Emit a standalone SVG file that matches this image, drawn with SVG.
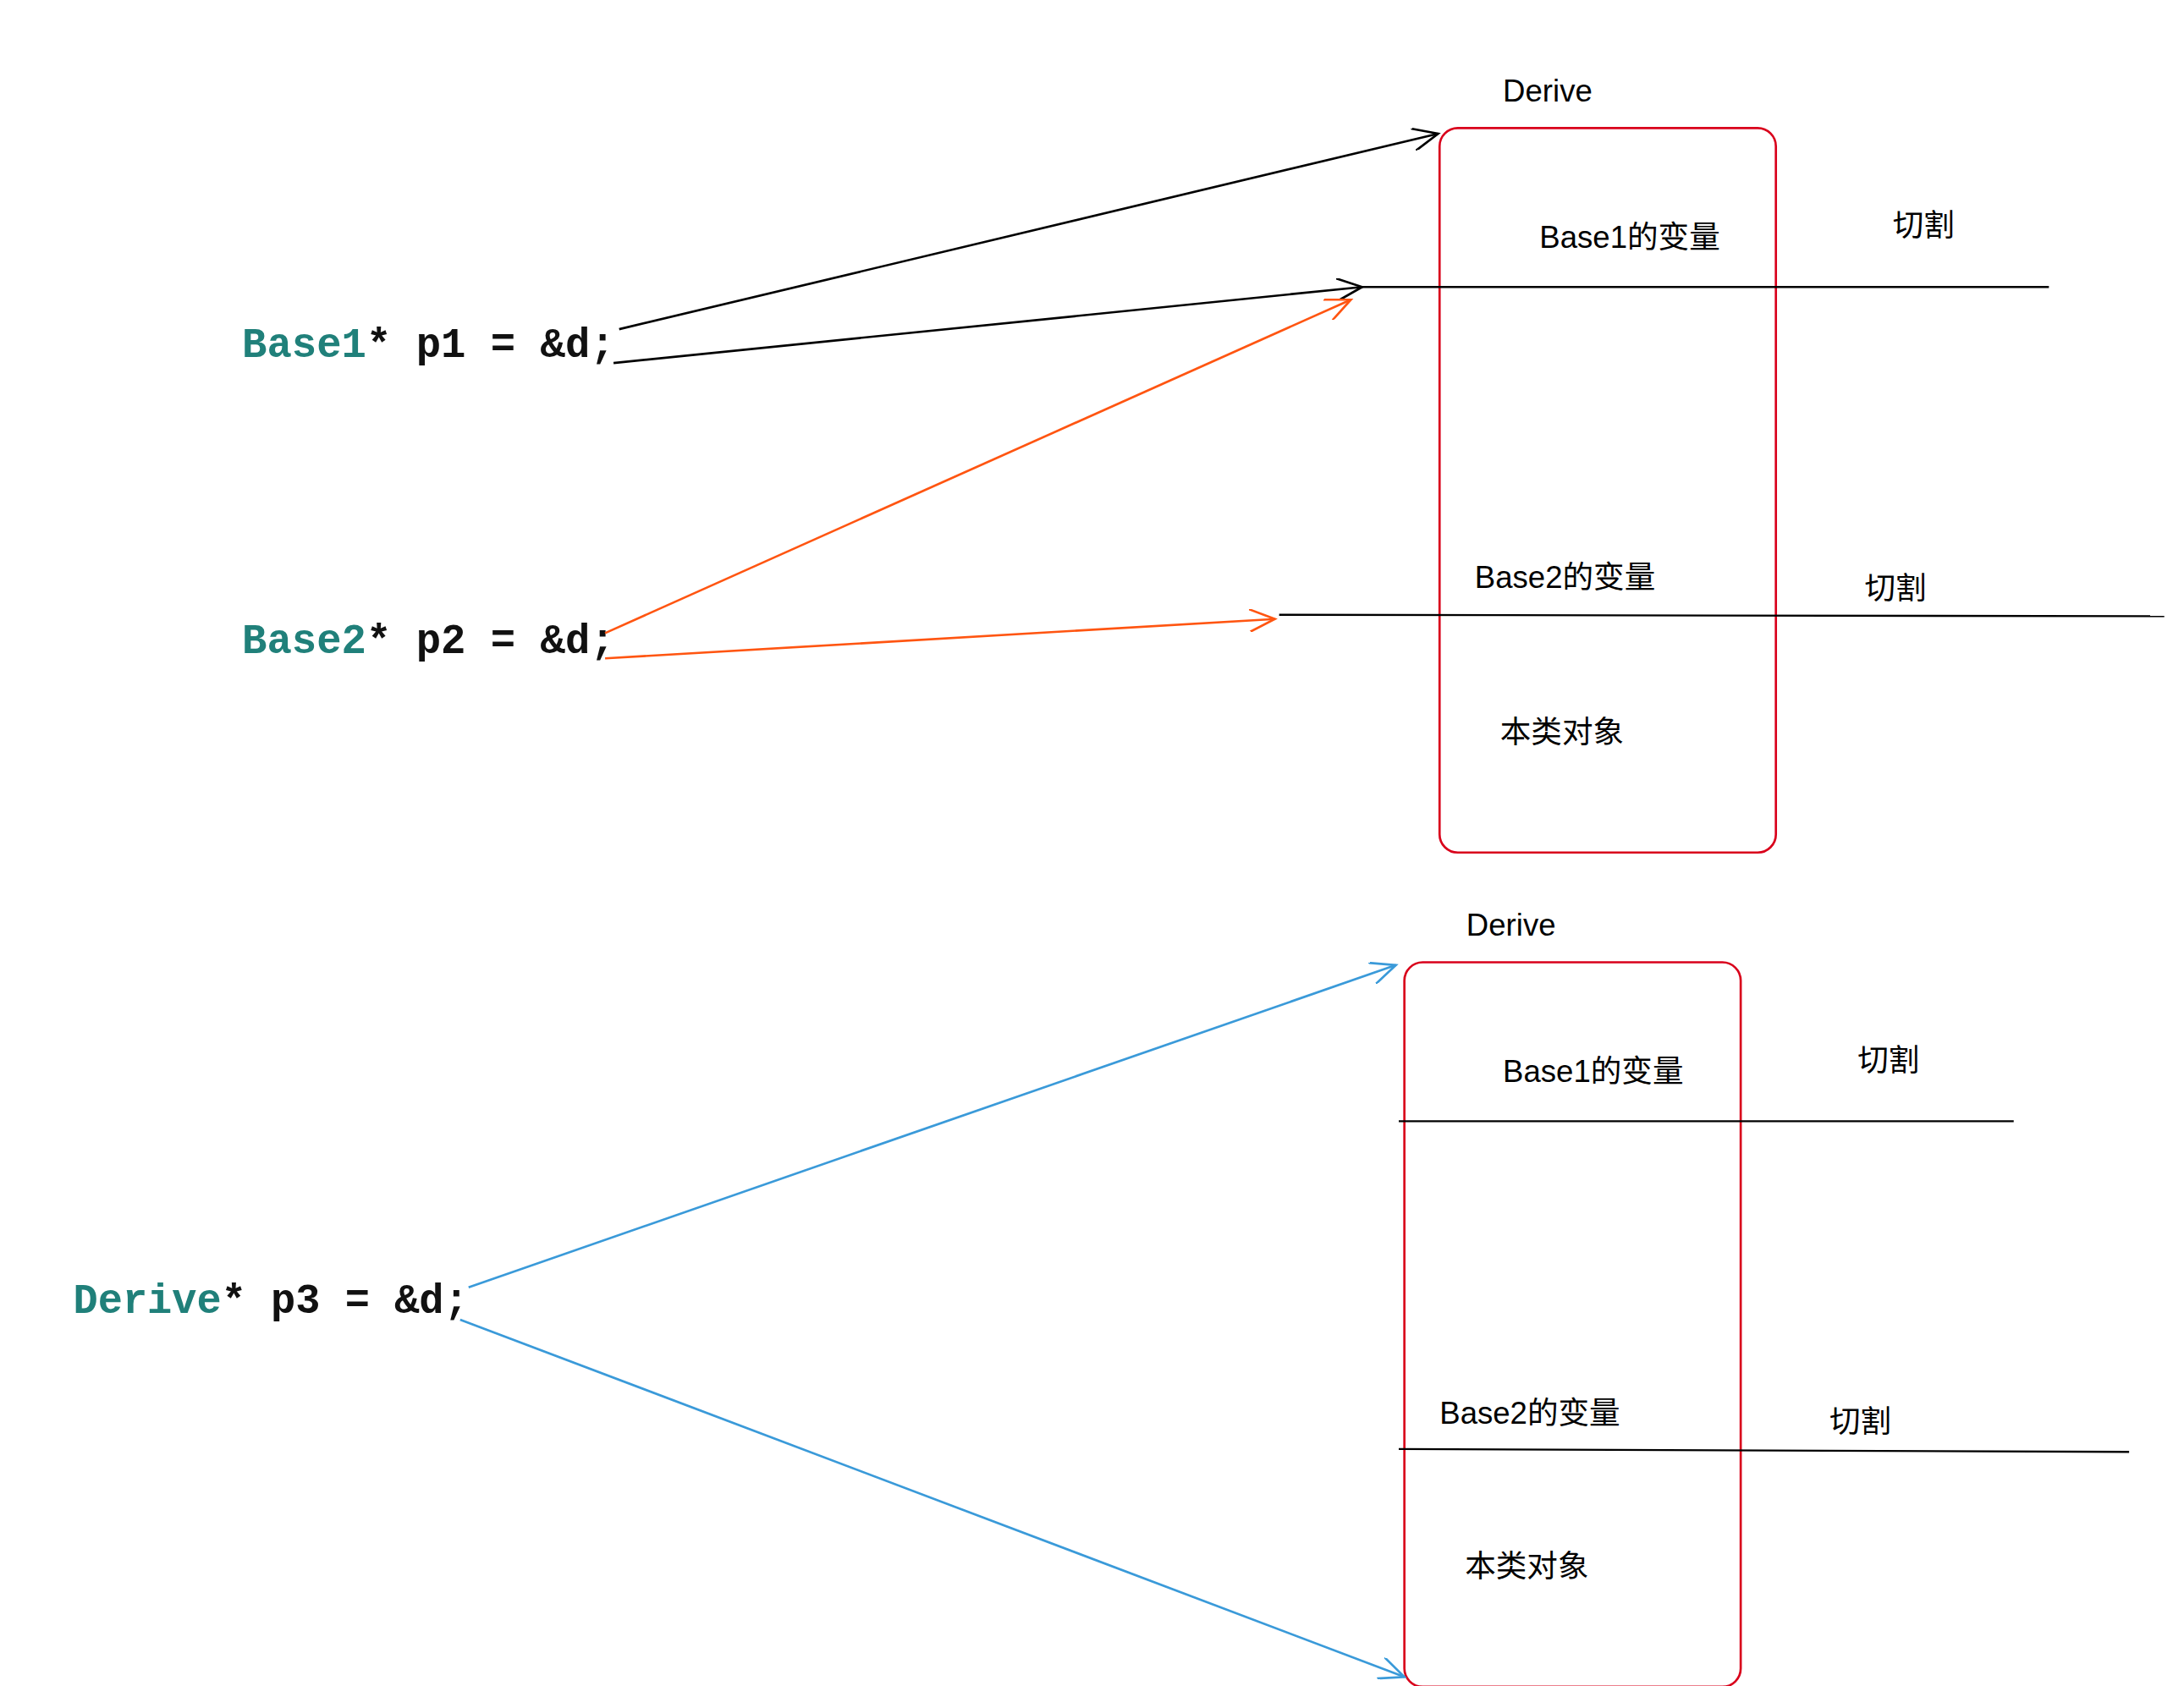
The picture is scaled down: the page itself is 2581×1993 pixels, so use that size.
<svg xmlns="http://www.w3.org/2000/svg" width="2581" height="1993" viewBox="0 0 2581 1993">
<style>
.box{fill:none;stroke:#d9001b;stroke-width:1.6}
.t{font-family:"Liberation Sans","Noto Sans CJK SC",sans-serif;font-size:22px;fill:#000}
.code{font-family:"Liberation Mono","DejaVu Sans Mono",monospace;font-size:30px;font-weight:bold;fill:#111}
.kw{fill:#20807a}
.cut{stroke:#000;stroke-width:1.4;fill:none}
.k{stroke:#000;stroke-width:1.6;fill:none}
.o{stroke:#ff5511;stroke-width:1.6;fill:none}
.b{stroke:#3a9ad9;stroke-width:1.6;fill:none}
</style>
<defs>
<marker id="mk" markerUnits="userSpaceOnUse" markerWidth="22" markerHeight="16" refX="18" refY="8" orient="auto"><path d="M0,0 L18,8 L0,16" fill="none" stroke="#000" stroke-width="1.6"/></marker>
<marker id="mo" markerUnits="userSpaceOnUse" markerWidth="22" markerHeight="16" refX="18" refY="8" orient="auto"><path d="M0,0 L18,8 L0,16" fill="none" stroke="#ff5511" stroke-width="1.6"/></marker>
<marker id="mb" markerUnits="userSpaceOnUse" markerWidth="22" markerHeight="16" refX="18" refY="8" orient="auto"><path d="M0,0 L18,8 L0,16" fill="none" stroke="#3a9ad9" stroke-width="1.6"/></marker>
</defs>
<rect width="2581" height="1993" fill="#fff"/>
<g transform="scale(1.663)">
<g id="code1"><text class="code" x="172" y="254" textLength="265" lengthAdjust="spacingAndGlyphs"><tspan class="kw">Base1</tspan>* p1 = &amp;d;</text></g>
<g id="code2"><text class="code" x="172" y="464" textLength="265" lengthAdjust="spacingAndGlyphs"><tspan class="kw">Base2</tspan>* p2 = &amp;d;</text></g>
<g id="code3"><text class="code" x="52" y="933" textLength="281" lengthAdjust="spacingAndGlyphs"><tspan class="kw">Derive</tspan>* p3 = &amp;d;</text></g>
<g id="derive1">
<text class="t" x="1068" y="72">Derive</text>
<rect class="box" x="1023" y="91" width="239" height="515" rx="13"/>
<text class="t" x="1094" y="176">Base1的变量</text>
<text class="t" x="1345" y="168">切割</text>
<text class="t" x="1048" y="418">Base2的变量</text>
<text class="t" x="1325" y="426">切割</text>
<text class="t" x="1066" y="528">本类对象</text>
<path class="cut" d="M968,204 L1456,204"/>
<path class="cut" d="M909,437 L1538,438"/>
</g>
<g id="derive2">
<text class="t" x="1042" y="665">Derive</text>
<rect class="box" x="998" y="684" width="239" height="515" rx="13"/>
<text class="t" x="1068" y="769">Base1的变量</text>
<text class="t" x="1320" y="761">切割</text>
<text class="t" x="1023" y="1012">Base2的变量</text>
<text class="t" x="1300" y="1018">切割</text>
<text class="t" x="1041" y="1121">本类对象</text>
<path class="cut" d="M994,797 L1431,797"/>
<path class="cut" d="M994,1030 L1513,1032"/>
</g>
<g id="connectors">
<path class="k" d="M440,234 L1022,95" marker-end="url(#mk)"/>
<path class="k" d="M436,258 L968,204" marker-end="url(#mk)"/>
<path class="o" d="M430,450 L960,213" marker-end="url(#mo)"/>
<path class="o" d="M430,468 L906,440" marker-end="url(#mo)"/>
<path class="b" d="M333,915 L992,686" marker-end="url(#mb)"/>
<path class="b" d="M327,938 L998,1192" marker-end="url(#mb)"/>
</g>
</g>
</svg>
